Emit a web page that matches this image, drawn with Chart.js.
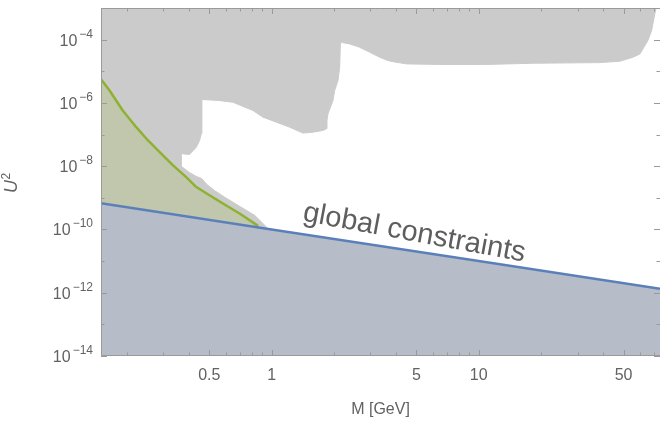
<!DOCTYPE html>
<html>
<head>
<meta charset="utf-8">
<script src="https://cdn.jsdelivr.net/npm/chart.js@4.4.1/dist/chart.umd.min.js"></script>
<style>
  html, body { margin: 0; padding: 0; background: #fff; }
</style>
</head>
<body>
<canvas id="chart" width="660" height="421"></canvas>
<script>
// excluded from above (gray), its lower edge
var upperM  = [0.15, 0.19, 0.25, 0.33, 0.3664, 0.3664, 0.401, 0.433, 0.449, 0.4575, 0.4606, 0.55, 0.65, 0.812, 0.908, 1.054, 1.221, 1.416, 1.583, 1.769, 1.838, 1.85, 1.871, 1.978, 2.015, 2.091, 2.131, 2.147, 2.171, 2.381, 2.662, 2.974, 3.325, 3.634, 4.004, 4.474, 7.0, 11.0, 18.2, 38.4, 48.0, 55.5, 60.0, 65.5, 68.3, 70.8, 73.2, 74.5];
var upperU2 = [8.5e-6, 9e-7, 1.05e-7, 1.6e-8, 9.8e-9, 2.48e-8, 2.35e-8, 4.0e-8, 6.5e-8, 1.06e-7, 1.28e-6, 1.2e-6, 1.05e-6, 5.75e-7, 3.54e-7, 2.46e-7, 1.71e-7, 1.11e-7, 1.19e-7, 1.35e-7, 1.52e-7, 2.79e-7, 4.53e-7, 1.19e-6, 2.46e-6, 5.09e-6, 1.34e-5, 7.3e-5, 8.2e-5, 7.3e-5, 5.7e-5, 4.0e-5, 2.77e-5, 2.18e-5, 1.92e-5, 1.71e-5, 1.63e-5, 1.65e-5, 1.79e-5, 1.88e-5, 2.07e-5, 2.77e-5, 3.54e-5, 9.3e-5, 1.92e-4, 6.4e-4, 1.7e-3, 1e-2];

// excluded from below (gray), its upper edge
var lowerM  = [0.15, 0.19, 0.25, 0.33, 0.367, 0.401, 0.434, 0.459, 0.485, 0.53, 0.593, 0.70, 0.828, 0.956];
var lowerU2 = [8.5e-6, 9e-7, 1.05e-7, 1.6e-8, 9.8e-9, 6.3e-9, 4.7e-9, 4.1e-9, 2.7e-9, 1.7e-9, 1.05e-9, 5.4e-10, 2.8e-10, 1.1e-10];

// green curve
var bbnM  = [0.15, 0.165, 0.191, 0.222, 0.253, 0.288, 0.334, 0.387, 0.433, 0.501, 0.582, 0.70, 0.86];
var bbnU2 = [5.6e-6, 2.46e-6, 5.75e-7, 1.71e-7, 6.5e-8, 2.79e-8, 1.06e-8, 4.5e-9, 2.19e-9, 1.2e-9, 6.6e-10, 3.2e-10, 1.3e-10];

// global constraints (blue)
var globalM  = [0.15, 1, 10, 75];
var globalU2 = [6.7e-10, 1.0e-10, 1.0e-11, 1.33e-12];

var xLabelTicks = [0.5, 1, 5, 10, 50];
var xMinorTicks = [0.2, 0.3, 0.4, 0.6, 0.7, 0.8, 0.9, 2, 3, 4, 6, 7, 8, 9, 20, 30, 40, 60, 70];
var yLabelTicks = [1e-14, 1e-12, 1e-10, 1e-8, 1e-6, 1e-4];
var yMinorTicks = [1e-13, 1e-11, 1e-9, 1e-7, 1e-5, 1e-3];

var textColor = '#626262';
var frameColor = '#9a9a9a';
var gray = '#cbcbcb';
var fontFamily = '"Liberation Sans", Arial, Helvetica, sans-serif';

function pts(xs, ys) {
    return xs.map(function (v, i) { return {x: v, y: ys[i]}; });
}

var axisDecor = {
    id: 'axisDecor',
    afterDatasetsDraw: function (chart) {
        var ctx = chart.ctx, a = chart.chartArea;
        var x = chart.scales.x, y = chart.scales.y;
        ctx.save();
        ctx.strokeStyle = frameColor;
        ctx.lineWidth = 1;
        ctx.beginPath();
        // frame: left, bottom, top (right edge falls off the picture)
        ctx.moveTo(a.right, a.top + 0.5); ctx.lineTo(a.left + 0.5, a.top + 0.5);
        ctx.lineTo(a.left + 0.5, a.bottom - 0.5); ctx.lineTo(a.right, a.bottom - 0.5);
        function xt(v, len) {
            var p = Math.round(x.getPixelForValue(v)) + 0.5;
            ctx.moveTo(p, a.bottom); ctx.lineTo(p, a.bottom - len);
            ctx.moveTo(p, a.top); ctx.lineTo(p, a.top + len);
        }
        function yt(v, len) {
            var p = Math.round(y.getPixelForValue(v)) + 0.5;
            ctx.moveTo(a.left, p); ctx.lineTo(a.left + len, p);
            ctx.moveTo(a.right, p); ctx.lineTo(a.right - len, p);
        }
        xLabelTicks.forEach(function (v) { xt(v, 6); });
        xMinorTicks.forEach(function (v) { xt(v, 3.5); });
        yLabelTicks.forEach(function (v) { yt(v, 6); });
        yMinorTicks.forEach(function (v) { yt(v, 3.5); });
        ctx.stroke();

        // y tick labels as 10 with superscript exponent
        ctx.fillStyle = textColor;
        ctx.textBaseline = 'alphabetic';
        ctx.textAlign = 'left';
        yLabelTicks.forEach(function (v) {
            var p = y.getPixelForValue(v);
            var sup = '\u2212' + Math.abs(Math.round(Math.log10(v)));
            ctx.font = '12px ' + fontFamily;
            var ws = ctx.measureText(sup).width;
            ctx.font = '16px ' + fontFamily;
            var wb = ctx.measureText('10').width;
            var right = a.left - 8;
            ctx.fillText('10', right - ws - 2 - wb, p + 6);
            ctx.font = '12px ' + fontFamily;
            ctx.fillText(sup, right - ws, p - 2);
        });

        // y axis title U^2
        ctx.save();
        ctx.translate(17, (a.top + a.bottom) / 2 + 11);
        ctx.rotate(-Math.PI / 2);
        ctx.font = 'italic 18px ' + fontFamily;
        var wu = ctx.measureText('U').width;
        ctx.fillText('U', 0, 0);
        ctx.font = '12px ' + fontFamily;
        ctx.fillText('2', wu + 0.5, -7);
        ctx.restore();

        // label along the blue line
        var px = x.getPixelForValue(1.4);
        var p0x = x.getPixelForValue(globalM[0]), p0y = y.getPixelForValue(globalU2[0]);
        var p1x = x.getPixelForValue(globalM[globalM.length - 1]), p1y = y.getPixelForValue(globalU2[globalU2.length - 1]);
        var lineY = p0y + (p1y - p0y) * (px - p0x) / (p1x - p0x);
        ctx.translate(px, lineY - 13.5);
        ctx.rotate(10.5 * Math.PI / 180);
        ctx.font = '29px ' + fontFamily;
        ctx.fillStyle = '#5e5e5e';
        ctx.fillText('global constraints', 0, 0);
        ctx.restore();
    }
};

new Chart(document.getElementById('chart'), {
    type: 'line',
    data: {
        datasets: [
            {label: 'upper', data: pts(upperM, upperU2), fill: 'end', backgroundColor: gray, borderColor: gray, borderWidth: 1, order: 5},
            {label: 'lower', data: pts(lowerM, lowerU2), fill: 'start', backgroundColor: gray, borderColor: gray, borderWidth: 1, order: 4},
            {label: 'bbn', data: pts(bbnM, bbnU2), fill: 'start', backgroundColor: '#c0c7ad', borderColor: '#8fb131', borderWidth: 2.5, order: 3},
            {label: 'global', data: pts(globalM, globalU2), fill: 'start', backgroundColor: '#b6bdc8', borderColor: '#5b80b9', borderWidth: 2.5, order: 2}
        ]
    },
    options: {
        responsive: false,
        animation: false,
        devicePixelRatio: 1,
        elements: {point: {radius: 0}, line: {tension: 0, borderJoinStyle: 'round'}},
        layout: {padding: {top: 8, right: 0, left: 0, bottom: 0}},
        plugins: {legend: {display: false}, tooltip: {enabled: false}},
        scales: {
            x: {
                type: 'logarithmic',
                min: 0.15,
                max: 75,
                border: {display: false},
                grid: {display: false, drawTicks: false},
                ticks: {
                    color: textColor,
                    font: {family: fontFamily, size: 16},
                    padding: 10,
                    maxRotation: 0,
                    autoSkip: false,
                    callback: function (v) { return String(v); }
                },
                afterBuildTicks: function (s) { s.ticks = xLabelTicks.map(function (v) { return {value: v}; }); },
                afterFit: function (s) { s.height = 65; },
                title: {display: true, text: 'M [GeV]', color: textColor, font: {family: fontFamily, size: 16}, padding: {top: 0, bottom: 2}}
            },
            y: {
                type: 'logarithmic',
                min: 1e-14,
                max: 1e-3,
                border: {display: false},
                grid: {display: false, drawTicks: false},
                ticks: {display: false},
                afterBuildTicks: function (s) { s.ticks = yLabelTicks.map(function (v) { return {value: v}; }); },
                afterFit: function (s) { s.width = 101; }
            }
        }
    },
    plugins: [axisDecor]
});
</script>
</body>
</html>
